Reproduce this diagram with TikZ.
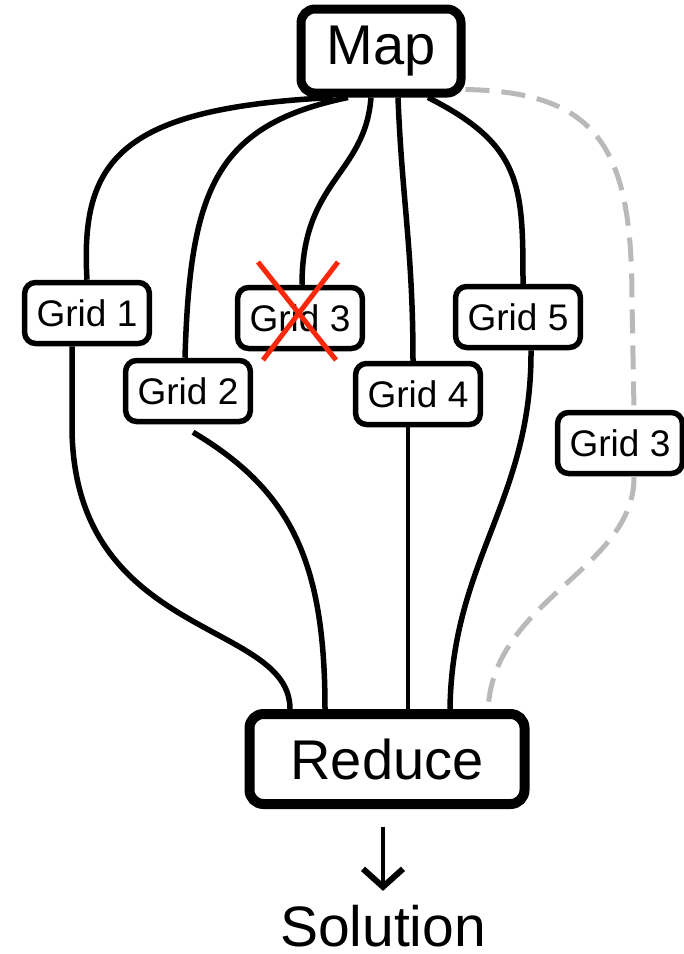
\documentclass[tikz,border=0pt]{standalone}
\usepackage{fontspec}
\setmainfont{Liberation Sans}
\usetikzlibrary{arrows.meta,calc}
\definecolor{dashgray}{RGB}{185,185,185}
\definecolor{crossred}{RGB}{250,40,10}
\begin{document}
\begin{tikzpicture}[x=1pt,y=-1pt,
  bigbox/.style={draw,line width=9pt,rounded corners=14pt,font=\fontsize{56}{60}\selectfont,inner ysep=0pt},
  gridbox/.style={draw,line width=5.5pt,rounded corners=11pt,font=\fontsize{37}{40}\selectfont,minimum height=61pt,inner xsep=12pt,inner ysep=0pt},
  conn/.style={line width=5.5pt},
  thinconn/.style={line width=4pt},
  ghost/.style={line width=5pt,dashgray,dash pattern=on 24pt off 12pt},
  cross/.style={line width=5pt,crossred}]
\useasboundingbox (0,0) rectangle (684,954);
\node[bigbox,minimum width=160pt,minimum height=84pt] (map) at (381,51) {Map};
\node[bigbox,line width=10pt,minimum width=275pt,minimum height=90pt] (reduce) at (387,759) {Reduce};
\node[font=\fontsize{57}{60}\selectfont,inner sep=0pt] (sol) at (383,926) {Solution};
\node[gridbox] (g1) at (87,313) {Grid 1};
\node[gridbox] (g2) at (188,391) {Grid 2};
\node[gridbox] (g3) at (300,318) {Grid 3};
\node[gridbox] (g4) at (418,394) {Grid 4};
\node[gridbox] (g5) at (518,317) {Grid 5};
\node[gridbox] (g3r) at (620,443) {Grid 3};
\coordinate (atop) at (sol.north |- reduce.south);
% map to grids
\draw[conn] ([xshift=-48pt]map.south) .. controls (120,108) and (80,160) .. ([xshift=0pt]g1.north);
\draw[conn] ([xshift=-33pt]map.south) .. controls (215,125) and (190,190) .. ([xshift=-3pt]g2.north);
\draw[conn] ([xshift=-10pt]map.south) .. controls (365,175) and (302,180) .. ([xshift=2pt]g3.north);
\draw[conn] ([xshift=17pt]map.south) .. controls (402,200) and (413,250) .. ([xshift=-5pt]g4.north);
\draw[conn] ([xshift=47pt]map.south) .. controls (522,145) and (523,185) .. ([xshift=5pt]g5.north);
\draw[ghost] ([yshift=8pt]map.south east) .. controls (600,92) and (632,150) .. (632,300) -- ([xshift=14pt]g3r.north);
% grids to reduce
\draw[conn] ([xshift=-15pt]g1.south) -- (72,430) .. controls (75,640) and (290,620) .. ([xshift=-97pt]reduce.north);
\draw[conn] ([xshift=5pt,yshift=-8pt]g2.south) .. controls (290,490) and (325,560) .. ([xshift=-62pt]reduce.north);
\draw[thinconn] ([xshift=-10pt]g4.south) -- ([xshift=21pt]reduce.north);
\draw[conn] ([xshift=13pt]g5.south) .. controls (532,500) and (452,560) .. ([xshift=63pt]reduce.north);
\draw[ghost] ([xshift=14pt]g3r.south) .. controls (635,570) and (490,600) .. ([xshift=101pt,yshift=-4pt]reduce.north);
% cross
\draw[cross] (258,262) -- (336,360);
\draw[cross] (338,262) -- (263,360);
% arrow
\draw[line width=4pt,-{Straight Barb[length=18pt,width=40pt,line width=6pt]}] ([yshift=-18pt]atop) -- ([yshift=14pt]sol.north);
\end{tikzpicture}
\end{document}
